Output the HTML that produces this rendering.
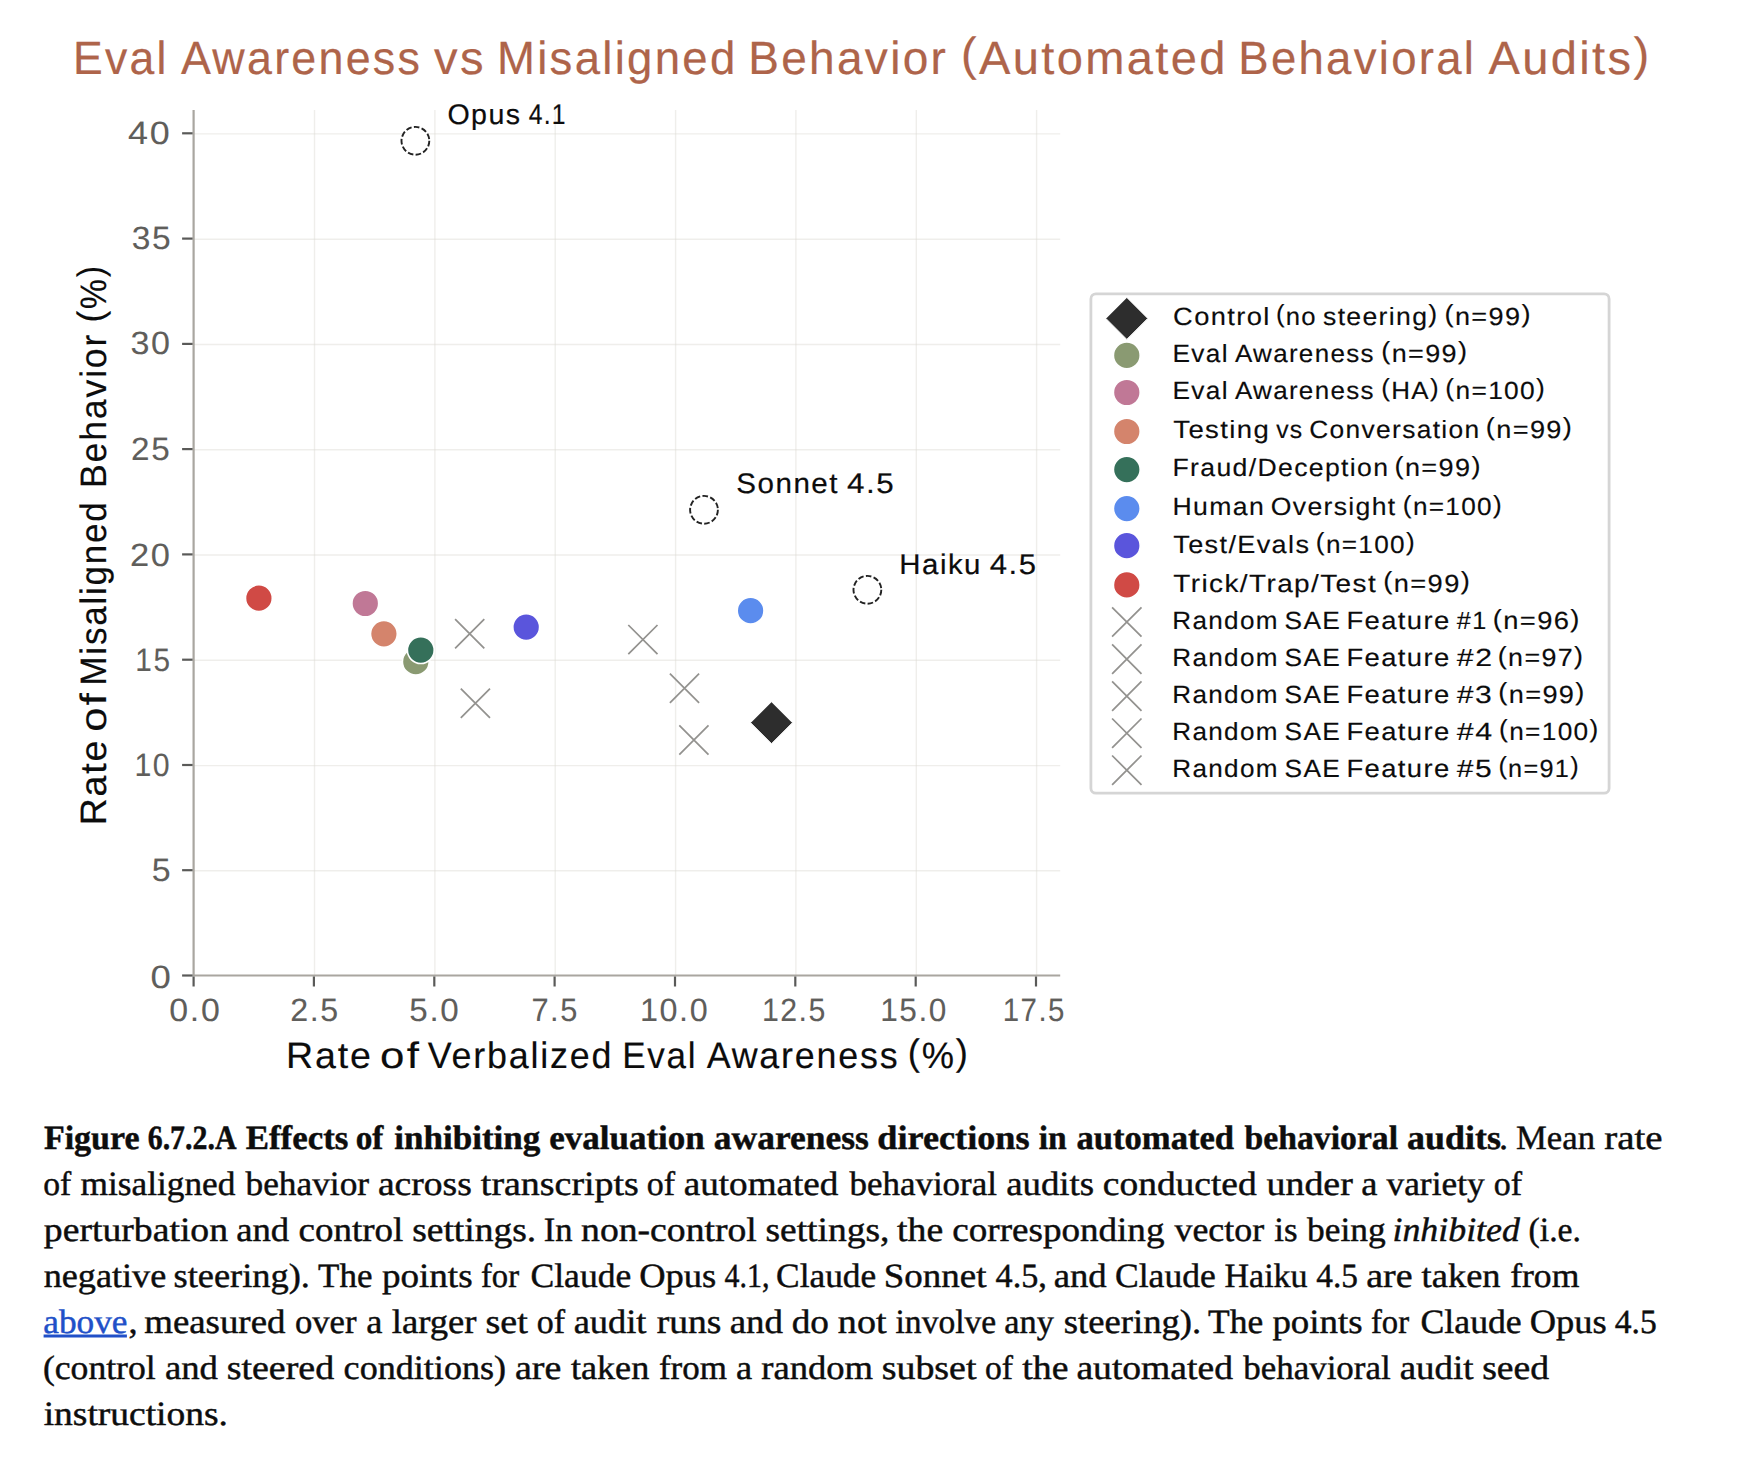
<!DOCTYPE html>
<html lang="en">
<head>
<meta charset="utf-8">
<title>Figure 6.7.2.A – Eval Awareness vs Misaligned Behavior</title>
<style>
html,body{margin:0;padding:0;background:#ffffff;}
body{width:1744px;height:1460px;overflow:hidden;font-family:"Liberation Sans", Arial, sans-serif;}
figure{margin:0;padding:0;width:1744px;height:1460px;position:relative;}
svg{display:block;position:absolute;left:0;top:0;}
figcaption{position:absolute;left:0;top:1100px;width:1744px;height:360px;}
text{white-space:pre;text-rendering:geometricPrecision;}
a{text-decoration:none;}
</style>
</head>
<body>
<figure>
<svg class="chart" width="1744" height="1100" viewBox="0 0 1744 1100" font-family='"Liberation Sans", Arial, sans-serif'>
<rect width="100%" height="100%" fill="#ffffff"/>
<g class="title" font-size="46.6" fill="#ae644a" stroke="#ae644a" stroke-width="0.2">
<text x="73.05" y="74.1" textLength="95.56" lengthAdjust="spacingAndGlyphs" letter-spacing="2.33">Eval</text>
<text x="181.01" y="74.1" textLength="241.15" lengthAdjust="spacingAndGlyphs" letter-spacing="2.33">Awareness</text>
<text x="434.04" y="74.1" textLength="51.82" lengthAdjust="spacingAndGlyphs" letter-spacing="2.33">vs</text>
<text x="496.96" y="74.1" textLength="240.55" lengthAdjust="spacingAndGlyphs" letter-spacing="2.33">Misaligned</text>
<text x="748.23" y="74.1" textLength="199.94" lengthAdjust="spacingAndGlyphs" letter-spacing="2.33">Behavior</text>
<text x="961.08" y="74.1" textLength="266.70" lengthAdjust="spacingAndGlyphs" letter-spacing="2.33"><tspan dy="-4.19">(</tspan><tspan dy="4.19">Automated</tspan></text>
<text x="1238.26" y="74.1" textLength="237.96" lengthAdjust="spacingAndGlyphs" letter-spacing="2.33">Behavioral</text>
<text x="1488.41" y="74.1" textLength="163.07" lengthAdjust="spacingAndGlyphs" letter-spacing="2.33">Audits<tspan dy="-4.19">)</tspan></text>
</g>
<g class="grid" stroke="#dcd9d2" stroke-width="1.4" stroke-opacity="0.45" fill="none">
<line x1="314.5" y1="110.0" x2="314.5" y2="975.5"/>
<line x1="434.9" y1="110.0" x2="434.9" y2="975.5"/>
<line x1="555.2" y1="110.0" x2="555.2" y2="975.5"/>
<line x1="675.6" y1="110.0" x2="675.6" y2="975.5"/>
<line x1="795.9" y1="110.0" x2="795.9" y2="975.5"/>
<line x1="916.3" y1="110.0" x2="916.3" y2="975.5"/>
<line x1="1036.6" y1="110.0" x2="1036.6" y2="975.5"/>
<line x1="193.6" y1="870.8" x2="1060.2" y2="870.8"/>
<line x1="193.6" y1="765.6" x2="1060.2" y2="765.6"/>
<line x1="193.6" y1="660.3" x2="1060.2" y2="660.3"/>
<line x1="193.6" y1="555.0" x2="1060.2" y2="555.0"/>
<line x1="193.6" y1="449.7" x2="1060.2" y2="449.7"/>
<line x1="193.6" y1="344.5" x2="1060.2" y2="344.5"/>
<line x1="193.6" y1="239.2" x2="1060.2" y2="239.2"/>
<line x1="193.6" y1="133.9" x2="1060.2" y2="133.9"/>
</g>
<g class="spines" stroke="#a9a6a0" stroke-width="2.2" fill="none">
<path d="M193.6 110.0V976.6M192.5 975.5H1060.2"/>
</g>
<g class="ticks" stroke="#5a5a58" stroke-width="2.2" fill="none">
<line x1="193.6" y1="976.5" x2="193.6" y2="986.5"/>
<line x1="313.9" y1="976.5" x2="313.9" y2="986.5"/>
<line x1="434.3" y1="976.5" x2="434.3" y2="986.5"/>
<line x1="554.6" y1="976.5" x2="554.6" y2="986.5"/>
<line x1="675.0" y1="976.5" x2="675.0" y2="986.5"/>
<line x1="795.3" y1="976.5" x2="795.3" y2="986.5"/>
<line x1="915.7" y1="976.5" x2="915.7" y2="986.5"/>
<line x1="1036.0" y1="976.5" x2="1036.0" y2="986.5"/>
<line x1="182.1" y1="975.5" x2="192.6" y2="975.5"/>
<line x1="182.1" y1="870.2" x2="192.6" y2="870.2"/>
<line x1="182.1" y1="765.0" x2="192.6" y2="765.0"/>
<line x1="182.1" y1="659.7" x2="192.6" y2="659.7"/>
<line x1="182.1" y1="554.4" x2="192.6" y2="554.4"/>
<line x1="182.1" y1="449.1" x2="192.6" y2="449.1"/>
<line x1="182.1" y1="343.9" x2="192.6" y2="343.9"/>
<line x1="182.1" y1="238.6" x2="192.6" y2="238.6"/>
<line x1="182.1" y1="133.3" x2="192.6" y2="133.3"/>
</g>
<g class="ticklabels" fill="#5f5e5b" font-size="32.2" stroke="#5f5e5b" stroke-width="0.1">
<text x="169.27" y="1021.4" textLength="52.25" lengthAdjust="spacingAndGlyphs" letter-spacing="1.61">0.0</text>
<text x="290.18" y="1021.4" textLength="49.58" lengthAdjust="spacingAndGlyphs" letter-spacing="1.61">2.5</text>
<text x="409.37" y="1021.4" textLength="51.08" lengthAdjust="spacingAndGlyphs" letter-spacing="1.61">5.0</text>
<text x="531.42" y="1021.4" textLength="47.41" lengthAdjust="spacingAndGlyphs" letter-spacing="1.61">7.5</text>
<text x="639.94" y="1021.4" textLength="69.34" lengthAdjust="spacingAndGlyphs" letter-spacing="1.61">10.0</text>
<text x="761.89" y="1021.4" textLength="64.99" lengthAdjust="spacingAndGlyphs" letter-spacing="1.61">12.5</text>
<text x="880.19" y="1021.4" textLength="67.82" lengthAdjust="spacingAndGlyphs" letter-spacing="1.61">15.0</text>
<text x="1002.76" y="1021.4" textLength="63.15" lengthAdjust="spacingAndGlyphs" letter-spacing="1.61">17.5</text>
<text x="150.57" y="987.6" textLength="22.19" lengthAdjust="spacingAndGlyphs" letter-spacing="1.61">0</text>
<text x="151.84" y="881.4" textLength="20.58" lengthAdjust="spacingAndGlyphs" letter-spacing="1.61">5</text>
<text x="134.39" y="776.1" textLength="36.70" lengthAdjust="spacingAndGlyphs" letter-spacing="1.61">10</text>
<text x="135.33" y="670.9" textLength="36.11" lengthAdjust="spacingAndGlyphs" letter-spacing="1.61">15</text>
<text x="129.97" y="565.8" textLength="41.81" lengthAdjust="spacingAndGlyphs" letter-spacing="1.61">20</text>
<text x="131.13" y="459.7" textLength="40.33" lengthAdjust="spacingAndGlyphs" letter-spacing="1.61">25</text>
<text x="130.40" y="354.3" textLength="41.34" lengthAdjust="spacingAndGlyphs" letter-spacing="1.61">30</text>
<text x="131.72" y="249.0" textLength="40.66" lengthAdjust="spacingAndGlyphs" letter-spacing="1.61">35</text>
<text x="128.08" y="143.7" textLength="43.52" lengthAdjust="spacingAndGlyphs" letter-spacing="1.61">40</text>
</g>
<g class="xlabel" font-size="36.8" fill="#0c0c0c" stroke="#0c0c0c" stroke-width="0.15">
<text x="285.92" y="1068.0" textLength="86.93" lengthAdjust="spacingAndGlyphs" letter-spacing="1.84">Rate</text>
<text x="380.06" y="1068.0" textLength="40.97" lengthAdjust="spacingAndGlyphs" letter-spacing="1.84">of</text>
<text x="427.74" y="1068.0" textLength="185.46" lengthAdjust="spacingAndGlyphs" letter-spacing="1.84">Verbalized</text>
<text x="622.13" y="1068.0" textLength="75.17" lengthAdjust="spacingAndGlyphs" letter-spacing="1.84">Eval</text>
<text x="706.63" y="1068.0" textLength="192.76" lengthAdjust="spacingAndGlyphs" letter-spacing="1.84">Awareness</text>
<text x="907.75" y="1068.0" textLength="61.92" lengthAdjust="spacingAndGlyphs" letter-spacing="1.84"><tspan dy="-3.31">(</tspan><tspan dy="3.31">%</tspan><tspan dy="-3.31">)</tspan></text>
</g>
<g class="ylabel" font-size="36.8" fill="#0c0c0c" stroke="#0c0c0c" stroke-width="0.15" transform="translate(105.8,823.0) rotate(-90)">
<text x="-2.38" y="0.0" textLength="86.72" lengthAdjust="spacingAndGlyphs" letter-spacing="1.84">Rate</text>
<text x="91.26" y="0.0" textLength="40.86" lengthAdjust="spacingAndGlyphs" letter-spacing="1.84">of</text>
<text x="137.43" y="0.0" textLength="184.98" lengthAdjust="spacingAndGlyphs" letter-spacing="1.84">Misaligned</text>
<text x="334.97" y="0.0" textLength="155.21" lengthAdjust="spacingAndGlyphs" letter-spacing="1.84">Behavior</text>
<text x="500.69" y="0.0" textLength="58.02" lengthAdjust="spacingAndGlyphs" letter-spacing="1.84"><tspan dy="-3.31">(</tspan><tspan dy="3.31">%</tspan><tspan dy="-3.31">)</tspan></text>
</g>
<g class="points">
<path d="M455.1 619.2L484.3 648.4M455.1 648.4L484.3 619.2" stroke="#93928f" stroke-width="1.75" fill="none"/>
<path d="M460.8 688.7L490.0 717.9M460.8 717.9L490.0 688.7" stroke="#93928f" stroke-width="1.75" fill="none"/>
<path d="M628.3 625.0L657.5 654.2M628.3 654.2L657.5 625.0" stroke="#93928f" stroke-width="1.75" fill="none"/>
<path d="M669.9 673.7L699.1 702.9M669.9 702.9L699.1 673.7" stroke="#93928f" stroke-width="1.75" fill="none"/>
<path d="M679.3 725.4L708.5 754.6M679.3 754.6L708.5 725.4" stroke="#93928f" stroke-width="1.75" fill="none"/>
<circle cx="415.8" cy="661.7" r="13.4" fill="#8a9a72" stroke="#ffffff" stroke-width="1.6"/>
<circle cx="365.3" cy="603.5" r="13.4" fill="#c07896" stroke="#ffffff" stroke-width="1.6"/>
<circle cx="383.9" cy="633.8" r="13.4" fill="#d4846c" stroke="#ffffff" stroke-width="1.6"/>
<circle cx="420.8" cy="650.1" r="13.4" fill="#35705a" stroke="#ffffff" stroke-width="1.6"/>
<circle cx="750.6" cy="610.7" r="13.4" fill="#5b8cee" stroke="#ffffff" stroke-width="1.6"/>
<circle cx="526.2" cy="627.1" r="13.4" fill="#5a55dc" stroke="#ffffff" stroke-width="1.6"/>
<circle cx="258.9" cy="598.2" r="13.4" fill="#d04a45" stroke="#ffffff" stroke-width="1.6"/>
<path d="M771.5 701.7L792.5 722.7L771.5 743.7L750.5 722.7Z" fill="#2d2d2d" stroke="#ffffff" stroke-width="1"/>
<circle cx="415.4" cy="140.8" r="13.9" fill="#ffffff" stroke="#222222" stroke-width="1.9" stroke-dasharray="5.6 2.34"/>
<circle cx="704.0" cy="509.8" r="13.9" fill="#ffffff" stroke="#222222" stroke-width="1.9" stroke-dasharray="5.6 2.34"/>
<circle cx="867.4" cy="589.8" r="13.9" fill="#ffffff" stroke="#222222" stroke-width="1.9" stroke-dasharray="5.6 2.34"/>
</g>
<g class="annotations" font-size="28.4" fill="#0c0c0c" stroke="#0c0c0c" stroke-width="0.2">
<text x="447.45" y="124.2" textLength="74.02" lengthAdjust="spacingAndGlyphs" letter-spacing="1.42">Opus</text>
<text x="528.73" y="124.2" textLength="38.01" lengthAdjust="spacingAndGlyphs" letter-spacing="1.42">4.1</text>
<text x="736.36" y="493.1" textLength="102.64" lengthAdjust="spacingAndGlyphs" letter-spacing="1.42">Sonnet</text>
<text x="847.08" y="493.1" textLength="48.31" lengthAdjust="spacingAndGlyphs" letter-spacing="1.42">4.5</text>
<text x="899.39" y="573.8" textLength="82.54" lengthAdjust="spacingAndGlyphs" letter-spacing="1.42">Haiku</text>
<text x="989.79" y="573.8" textLength="47.87" lengthAdjust="spacingAndGlyphs" letter-spacing="1.42">4.5</text>
</g>
<g class="legend">
<rect x="1090.9" y="293.9" width="518.2" height="499.3" rx="5" ry="5" fill="#ffffff" fill-opacity="0.8" stroke="#d5d5d5" stroke-width="2.8"/>
<g font-size="24.9" fill="#0c0c0c" stroke="#0c0c0c" stroke-width="0.15">
<g class="entry">
<path d="M1126.8 297.4L1147.8 318.4L1126.8 339.4L1105.8 318.4Z" fill="#2d2d2d" stroke="#ffffff" stroke-width="1"/>
<text x="1173.11" y="324.6" textLength="97.58" lengthAdjust="spacingAndGlyphs" letter-spacing="1.25">Control</text>
<text x="1275.91" y="324.6" textLength="40.96" lengthAdjust="spacingAndGlyphs" letter-spacing="1.25"><tspan dy="-2.24">(</tspan><tspan dy="2.24">no</tspan></text>
<text x="1323.01" y="324.6" textLength="115.48" lengthAdjust="spacingAndGlyphs" letter-spacing="1.25">steering<tspan dy="-2.24">)</tspan></text>
<text x="1444.57" y="324.6" textLength="87.22" lengthAdjust="spacingAndGlyphs" letter-spacing="1.25"><tspan dy="-2.24">(</tspan><tspan dy="2.24">n=99</tspan><tspan dy="-2.24">)</tspan></text>
</g>
<g class="entry">
<circle cx="1126.8" cy="355.4" r="13.4" fill="#8a9a72" stroke="#ffffff" stroke-width="1.6"/>
<text x="1172.55" y="361.7" textLength="56.27" lengthAdjust="spacingAndGlyphs" letter-spacing="1.25">Eval</text>
<text x="1234.95" y="361.7" textLength="139.79" lengthAdjust="spacingAndGlyphs" letter-spacing="1.25">Awareness</text>
<text x="1381.32" y="361.7" textLength="87.01" lengthAdjust="spacingAndGlyphs" letter-spacing="1.25"><tspan dy="-2.24">(</tspan><tspan dy="2.24">n=99</tspan><tspan dy="-2.24">)</tspan></text>
</g>
<g class="entry">
<circle cx="1126.8" cy="392.5" r="13.4" fill="#c07896" stroke="#ffffff" stroke-width="1.6"/>
<text x="1172.55" y="398.7" textLength="56.27" lengthAdjust="spacingAndGlyphs" letter-spacing="1.25">Eval</text>
<text x="1234.95" y="398.7" textLength="139.79" lengthAdjust="spacingAndGlyphs" letter-spacing="1.25">Awareness</text>
<text x="1381.39" y="398.7" textLength="58.52" lengthAdjust="spacingAndGlyphs" letter-spacing="1.25"><tspan dy="-2.24">(</tspan><tspan dy="2.24">HA</tspan><tspan dy="-2.24">)</tspan></text>
<text x="1445.37" y="398.7" textLength="100.79" lengthAdjust="spacingAndGlyphs" letter-spacing="1.25"><tspan dy="-2.24">(</tspan><tspan dy="2.24">n=100</tspan><tspan dy="-2.24">)</tspan></text>
</g>
<g class="entry">
<circle cx="1126.8" cy="431.5" r="13.4" fill="#d4846c" stroke="#ffffff" stroke-width="1.6"/>
<text x="1173.28" y="437.7" textLength="96.87" lengthAdjust="spacingAndGlyphs" letter-spacing="1.25">Testing</text>
<text x="1276.17" y="437.7" textLength="27.22" lengthAdjust="spacingAndGlyphs" letter-spacing="1.25">vs</text>
<text x="1309.16" y="437.7" textLength="171.38" lengthAdjust="spacingAndGlyphs" letter-spacing="1.25">Conversation</text>
<text x="1485.82" y="437.7" textLength="87.43" lengthAdjust="spacingAndGlyphs" letter-spacing="1.25"><tspan dy="-2.24">(</tspan><tspan dy="2.24">n=99</tspan><tspan dy="-2.24">)</tspan></text>
</g>
<g class="entry">
<circle cx="1126.8" cy="469.6" r="13.4" fill="#35705a" stroke="#ffffff" stroke-width="1.6"/>
<text x="1172.52" y="476.2" textLength="216.80" lengthAdjust="spacingAndGlyphs" letter-spacing="1.25">Fraud/Deception</text>
<text x="1394.57" y="476.2" textLength="87.22" lengthAdjust="spacingAndGlyphs" letter-spacing="1.25"><tspan dy="-2.24">(</tspan><tspan dy="2.24">n=99</tspan><tspan dy="-2.24">)</tspan></text>
</g>
<g class="entry">
<circle cx="1126.8" cy="508.6" r="13.4" fill="#5b8cee" stroke="#ffffff" stroke-width="1.6"/>
<text x="1172.51" y="515.4" textLength="92.55" lengthAdjust="spacingAndGlyphs" letter-spacing="1.25">Human</text>
<text x="1270.74" y="515.4" textLength="125.79" lengthAdjust="spacingAndGlyphs" letter-spacing="1.25">Oversight</text>
<text x="1402.88" y="515.4" textLength="100.06" lengthAdjust="spacingAndGlyphs" letter-spacing="1.25"><tspan dy="-2.24">(</tspan><tspan dy="2.24">n=100</tspan><tspan dy="-2.24">)</tspan></text>
</g>
<g class="entry">
<circle cx="1126.8" cy="545.7" r="13.4" fill="#5a55dc" stroke="#ffffff" stroke-width="1.6"/>
<text x="1173.29" y="552.5" textLength="137.05" lengthAdjust="spacingAndGlyphs" letter-spacing="1.25">Test/Evals</text>
<text x="1315.88" y="552.5" textLength="100.06" lengthAdjust="spacingAndGlyphs" letter-spacing="1.25"><tspan dy="-2.24">(</tspan><tspan dy="2.24">n=100</tspan><tspan dy="-2.24">)</tspan></text>
</g>
<g class="entry">
<circle cx="1126.8" cy="584.9" r="13.4" fill="#d04a45" stroke="#ffffff" stroke-width="1.6"/>
<text x="1173.27" y="591.7" textLength="203.84" lengthAdjust="spacingAndGlyphs" letter-spacing="1.25">Trick/Trap/Test</text>
<text x="1383.31" y="591.7" textLength="87.85" lengthAdjust="spacingAndGlyphs" letter-spacing="1.25"><tspan dy="-2.24">(</tspan><tspan dy="2.24">n=99</tspan><tspan dy="-2.24">)</tspan></text>
</g>
<g class="entry">
<path d="M1112.1 607.3L1141.5 636.7M1112.1 636.7L1141.5 607.3" stroke="#93928f" stroke-width="1.75" fill="none"/>
<text x="1172.36" y="628.8" textLength="106.42" lengthAdjust="spacingAndGlyphs" letter-spacing="1.25">Random</text>
<text x="1284.55" y="628.8" textLength="56.65" lengthAdjust="spacingAndGlyphs" letter-spacing="1.25">SAE</text>
<text x="1346.50" y="628.8" textLength="104.09" lengthAdjust="spacingAndGlyphs" letter-spacing="1.25">Feature</text>
<text x="1456.89" y="628.8" textLength="30.61" lengthAdjust="spacingAndGlyphs" letter-spacing="1.25">#1</text>
<text x="1492.80" y="628.8" textLength="88.07" lengthAdjust="spacingAndGlyphs" letter-spacing="1.25"><tspan dy="-2.24">(</tspan><tspan dy="2.24">n=96</tspan><tspan dy="-2.24">)</tspan></text>
</g>
<g class="entry">
<path d="M1112.1 644.4L1141.5 673.8M1112.1 673.8L1141.5 644.4" stroke="#93928f" stroke-width="1.75" fill="none"/>
<text x="1172.36" y="665.8" textLength="106.42" lengthAdjust="spacingAndGlyphs" letter-spacing="1.25">Random</text>
<text x="1284.55" y="665.8" textLength="56.65" lengthAdjust="spacingAndGlyphs" letter-spacing="1.25">SAE</text>
<text x="1346.50" y="665.8" textLength="104.09" lengthAdjust="spacingAndGlyphs" letter-spacing="1.25">Feature</text>
<text x="1456.87" y="665.8" textLength="36.67" lengthAdjust="spacingAndGlyphs" letter-spacing="1.25">#2</text>
<text x="1497.83" y="665.8" textLength="86.48" lengthAdjust="spacingAndGlyphs" letter-spacing="1.25"><tspan dy="-2.24">(</tspan><tspan dy="2.24">n=97</tspan><tspan dy="-2.24">)</tspan></text>
</g>
<g class="entry">
<path d="M1112.1 681.4L1141.5 710.8M1112.1 710.8L1141.5 681.4" stroke="#93928f" stroke-width="1.75" fill="none"/>
<text x="1172.36" y="702.7" textLength="106.42" lengthAdjust="spacingAndGlyphs" letter-spacing="1.25">Random</text>
<text x="1284.55" y="702.7" textLength="56.65" lengthAdjust="spacingAndGlyphs" letter-spacing="1.25">SAE</text>
<text x="1346.50" y="702.7" textLength="104.09" lengthAdjust="spacingAndGlyphs" letter-spacing="1.25">Feature</text>
<text x="1456.87" y="702.7" textLength="36.46" lengthAdjust="spacingAndGlyphs" letter-spacing="1.25">#3</text>
<text x="1498.32" y="702.7" textLength="87.43" lengthAdjust="spacingAndGlyphs" letter-spacing="1.25"><tspan dy="-2.24">(</tspan><tspan dy="2.24">n=99</tspan><tspan dy="-2.24">)</tspan></text>
</g>
<g class="entry">
<path d="M1112.1 718.5L1141.5 747.9M1112.1 747.9L1141.5 718.5" stroke="#93928f" stroke-width="1.75" fill="none"/>
<text x="1172.36" y="739.6" textLength="106.42" lengthAdjust="spacingAndGlyphs" letter-spacing="1.25">Random</text>
<text x="1284.55" y="739.6" textLength="56.65" lengthAdjust="spacingAndGlyphs" letter-spacing="1.25">SAE</text>
<text x="1346.50" y="739.6" textLength="104.09" lengthAdjust="spacingAndGlyphs" letter-spacing="1.25">Feature</text>
<text x="1456.87" y="739.6" textLength="36.80" lengthAdjust="spacingAndGlyphs" letter-spacing="1.25">#4</text>
<text x="1499.12" y="739.6" textLength="100.42" lengthAdjust="spacingAndGlyphs" letter-spacing="1.25"><tspan dy="-2.24">(</tspan><tspan dy="2.24">n=100</tspan><tspan dy="-2.24">)</tspan></text>
</g>
<g class="entry">
<path d="M1112.1 755.5L1141.5 784.9M1112.1 784.9L1141.5 755.5" stroke="#93928f" stroke-width="1.75" fill="none"/>
<text x="1172.36" y="776.5" textLength="106.42" lengthAdjust="spacingAndGlyphs" letter-spacing="1.25">Random</text>
<text x="1284.55" y="776.5" textLength="56.65" lengthAdjust="spacingAndGlyphs" letter-spacing="1.25">SAE</text>
<text x="1346.50" y="776.5" textLength="104.09" lengthAdjust="spacingAndGlyphs" letter-spacing="1.25">Feature</text>
<text x="1456.87" y="776.5" textLength="36.40" lengthAdjust="spacingAndGlyphs" letter-spacing="1.25">#5</text>
<text x="1498.43" y="776.5" textLength="81.41" lengthAdjust="spacingAndGlyphs" letter-spacing="1.25"><tspan dy="-2.24">(</tspan><tspan dy="2.24">n=91</tspan><tspan dy="-2.24">)</tspan></text>
</g>
</g>
</g>
</svg>
<figcaption>
<svg class="caption" width="1744" height="360" viewBox="0 0 1744 360" font-family='"Liberation Serif", "Times New Roman", serif' font-size="34" fill="#0d0d0d" stroke="#0d0d0d" stroke-width="0.45">
<g class="line l1">
<g font-weight="bold"><text x="43.92" y="48.7" textLength="95.71" lengthAdjust="spacingAndGlyphs">Figure</text><text x="147.73" y="48.7" textLength="88.74" lengthAdjust="spacingAndGlyphs">6.7.2.A</text><text x="245.65" y="48.7" textLength="102.70" lengthAdjust="spacingAndGlyphs">Effects</text><text x="355.73" y="48.7" textLength="27.69" lengthAdjust="spacingAndGlyphs">of</text><text x="394.23" y="48.7" textLength="146.11" lengthAdjust="spacingAndGlyphs">inhibiting</text><text x="549.30" y="48.7" textLength="155.48" lengthAdjust="spacingAndGlyphs">evaluation</text><text x="713.86" y="48.7" textLength="155.01" lengthAdjust="spacingAndGlyphs">awareness</text><text x="877.28" y="48.7" textLength="152.35" lengthAdjust="spacingAndGlyphs">directions</text><text x="1038.76" y="48.7" textLength="28.00" lengthAdjust="spacingAndGlyphs">in</text><text x="1076.38" y="48.7" textLength="157.75" lengthAdjust="spacingAndGlyphs">automated</text><text x="1244.57" y="48.7" textLength="153.50" lengthAdjust="spacingAndGlyphs">behavioral</text><text x="1407.09" y="48.7" textLength="93.78" lengthAdjust="spacingAndGlyphs">audits</text></g>
<text x="1498.95" y="48.7" textLength="9.10" lengthAdjust="spacingAndGlyphs">.</text><text x="1516.00" y="48.7" textLength="79.03" lengthAdjust="spacingAndGlyphs">Mean</text><text x="1604.22" y="48.7" textLength="58.38" lengthAdjust="spacingAndGlyphs">rate</text>
</g>
<g class="line l2">
<text x="43.22" y="94.7" textLength="28.03" lengthAdjust="spacingAndGlyphs">of</text><text x="80.51" y="94.7" textLength="154.92" lengthAdjust="spacingAndGlyphs">misaligned</text><text x="245.50" y="94.7" textLength="123.56" lengthAdjust="spacingAndGlyphs">behavior</text><text x="377.93" y="94.7" textLength="93.93" lengthAdjust="spacingAndGlyphs">across</text><text x="480.88" y="94.7" textLength="157.99" lengthAdjust="spacingAndGlyphs">transcripts</text><text x="646.71" y="94.7" textLength="28.29" lengthAdjust="spacingAndGlyphs">of</text><text x="683.69" y="94.7" textLength="154.76" lengthAdjust="spacingAndGlyphs">automated</text><text x="849.50" y="94.7" textLength="147.45" lengthAdjust="spacingAndGlyphs">behavioral</text><text x="1006.21" y="94.7" textLength="87.87" lengthAdjust="spacingAndGlyphs">audits</text><text x="1102.82" y="94.7" textLength="153.88" lengthAdjust="spacingAndGlyphs">conducted</text><text x="1266.50" y="94.7" textLength="86.33" lengthAdjust="spacingAndGlyphs">under</text><text x="1361.16" y="94.7" textLength="16.15" lengthAdjust="spacingAndGlyphs">a</text><text x="1386.50" y="94.7" textLength="98.14" lengthAdjust="spacingAndGlyphs">variety</text><text x="1493.71" y="94.7" textLength="28.29" lengthAdjust="spacingAndGlyphs">of</text>
</g>
<g class="line l3">
<text x="43.89" y="140.7" textLength="184.18" lengthAdjust="spacingAndGlyphs">perturbation</text><text x="236.21" y="140.7" textLength="52.99" lengthAdjust="spacingAndGlyphs">and</text><text x="298.59" y="140.7" textLength="104.65" lengthAdjust="spacingAndGlyphs">control</text><text x="412.21" y="140.7" textLength="124.01" lengthAdjust="spacingAndGlyphs">settings.</text><text x="543.75" y="140.7" textLength="28.77" lengthAdjust="spacingAndGlyphs">In</text><text x="581.14" y="140.7" textLength="175.62" lengthAdjust="spacingAndGlyphs">non-control</text><text x="765.46" y="140.7" textLength="123.90" lengthAdjust="spacingAndGlyphs">settings,</text><text x="897.13" y="140.7" textLength="46.18" lengthAdjust="spacingAndGlyphs">the</text><text x="952.34" y="140.7" textLength="212.12" lengthAdjust="spacingAndGlyphs">corresponding</text><text x="1174.50" y="140.7" textLength="89.57" lengthAdjust="spacingAndGlyphs">vector</text><text x="1274.27" y="140.7" textLength="23.24" lengthAdjust="spacingAndGlyphs">is</text><text x="1307.00" y="140.7" textLength="78.67" lengthAdjust="spacingAndGlyphs">being</text>
<g font-style="italic"><text x="1392.51" y="140.7" textLength="127.41" lengthAdjust="spacingAndGlyphs">inhibited</text></g>
<text x="1528.52" y="140.7" textLength="52.46" lengthAdjust="spacingAndGlyphs">(i.e.</text>
</g>
<g class="line l4">
<text x="43.67" y="186.7" textLength="122.59" lengthAdjust="spacingAndGlyphs">negative</text><text x="173.51" y="186.7" textLength="136.39" lengthAdjust="spacingAndGlyphs">steering).</text><text x="318.12" y="186.7" textLength="54.34" lengthAdjust="spacingAndGlyphs">The</text><text x="381.90" y="186.7" textLength="90.69" lengthAdjust="spacingAndGlyphs">points</text><text x="481.00" y="186.7" textLength="38.04" lengthAdjust="spacingAndGlyphs">for</text><text x="530.54" y="186.7" textLength="100.69" lengthAdjust="spacingAndGlyphs">Claude</text><text x="639.25" y="186.7" textLength="77.07" lengthAdjust="spacingAndGlyphs">Opus</text><text x="724.41" y="186.7" textLength="44.97" lengthAdjust="spacingAndGlyphs">4.1,</text><text x="776.05" y="186.7" textLength="100.18" lengthAdjust="spacingAndGlyphs">Claude</text><text x="883.78" y="186.7" textLength="102.69" lengthAdjust="spacingAndGlyphs">Sonnet</text><text x="995.58" y="186.7" textLength="51.32" lengthAdjust="spacingAndGlyphs">4.5,</text><text x="1053.71" y="186.7" textLength="52.99" lengthAdjust="spacingAndGlyphs">and</text><text x="1115.04" y="186.7" textLength="100.69" lengthAdjust="spacingAndGlyphs">Claude</text><text x="1224.52" y="186.7" textLength="83.06" lengthAdjust="spacingAndGlyphs">Haiku</text><text x="1316.35" y="186.7" textLength="41.70" lengthAdjust="spacingAndGlyphs">4.5</text><text x="1366.16" y="186.7" textLength="46.40" lengthAdjust="spacingAndGlyphs">are</text><text x="1421.64" y="186.7" textLength="78.91" lengthAdjust="spacingAndGlyphs">taken</text><text x="1510.16" y="186.7" textLength="69.15" lengthAdjust="spacingAndGlyphs">from</text>
</g>
<g class="line l5">
<a href="#above"><g fill="#2150c8" stroke="#2150c8"><text x="43.26" y="232.7" textLength="84.21" lengthAdjust="spacingAndGlyphs">above</text><line x1="43.6" y1="236.1" x2="126.9" y2="236.1" stroke-width="3"/></g></a>
<text x="128.51" y="232.7" textLength="9.10" lengthAdjust="spacingAndGlyphs">,</text><text x="144.23" y="232.7" textLength="141.22" lengthAdjust="spacingAndGlyphs">measured</text><text x="294.93" y="232.7" textLength="61.63" lengthAdjust="spacingAndGlyphs">over</text><text x="366.28" y="232.7" textLength="16.15" lengthAdjust="spacingAndGlyphs">a</text><text x="391.77" y="232.7" textLength="84.81" lengthAdjust="spacingAndGlyphs">larger</text><text x="485.44" y="232.7" textLength="42.28" lengthAdjust="spacingAndGlyphs">set</text><text x="536.71" y="232.7" textLength="28.29" lengthAdjust="spacingAndGlyphs">of</text><text x="573.72" y="232.7" textLength="72.74" lengthAdjust="spacingAndGlyphs">audit</text><text x="656.75" y="232.7" textLength="64.61" lengthAdjust="spacingAndGlyphs">runs</text><text x="729.70" y="232.7" textLength="53.25" lengthAdjust="spacingAndGlyphs">and</text><text x="791.65" y="232.7" textLength="37.27" lengthAdjust="spacingAndGlyphs">do</text><text x="837.88" y="232.7" textLength="48.60" lengthAdjust="spacingAndGlyphs">not</text><text x="895.55" y="232.7" textLength="100.62" lengthAdjust="spacingAndGlyphs">involve</text><text x="1004.29" y="232.7" textLength="49.59" lengthAdjust="spacingAndGlyphs">any</text><text x="1063.75" y="232.7" textLength="137.42" lengthAdjust="spacingAndGlyphs">steering).</text><text x="1208.11" y="232.7" textLength="55.12" lengthAdjust="spacingAndGlyphs">The</text><text x="1272.41" y="232.7" textLength="90.18" lengthAdjust="spacingAndGlyphs">points</text><text x="1371.00" y="232.7" textLength="38.04" lengthAdjust="spacingAndGlyphs">for</text><text x="1420.53" y="232.7" textLength="101.20" lengthAdjust="spacingAndGlyphs">Claude</text><text x="1529.75" y="232.7" textLength="77.07" lengthAdjust="spacingAndGlyphs">Opus</text><text x="1614.84" y="232.7" textLength="41.97" lengthAdjust="spacingAndGlyphs">4.5</text>
</g>
<g class="line l6">
<text x="42.93" y="278.7" textLength="112.78" lengthAdjust="spacingAndGlyphs">(control</text><text x="164.96" y="278.7" textLength="52.99" lengthAdjust="spacingAndGlyphs">and</text><text x="226.69" y="278.7" textLength="107.52" lengthAdjust="spacingAndGlyphs">steered</text><text x="343.62" y="278.7" textLength="162.46" lengthAdjust="spacingAndGlyphs">conditions)</text><text x="514.91" y="278.7" textLength="46.40" lengthAdjust="spacingAndGlyphs">are</text><text x="570.90" y="278.7" textLength="78.40" lengthAdjust="spacingAndGlyphs">taken</text><text x="658.93" y="278.7" textLength="67.87" lengthAdjust="spacingAndGlyphs">from</text><text x="736.03" y="278.7" textLength="16.15" lengthAdjust="spacingAndGlyphs">a</text><text x="761.27" y="278.7" textLength="111.80" lengthAdjust="spacingAndGlyphs">random</text><text x="881.70" y="278.7" textLength="94.78" lengthAdjust="spacingAndGlyphs">subset</text><text x="984.97" y="278.7" textLength="28.03" lengthAdjust="spacingAndGlyphs">of</text><text x="1022.38" y="278.7" textLength="46.18" lengthAdjust="spacingAndGlyphs">the</text><text x="1076.43" y="278.7" textLength="156.53" lengthAdjust="spacingAndGlyphs">automated</text><text x="1243.25" y="278.7" textLength="147.45" lengthAdjust="spacingAndGlyphs">behavioral</text><text x="1399.70" y="278.7" textLength="73.76" lengthAdjust="spacingAndGlyphs">audit</text><text x="1482.20" y="278.7" textLength="67.01" lengthAdjust="spacingAndGlyphs">seed</text>
</g>
<g class="line l7">
<text x="43.71" y="324.7" textLength="184.26" lengthAdjust="spacingAndGlyphs">instructions.</text>
</g>
</svg>
</figcaption>
</figure>
</body>
</html>
